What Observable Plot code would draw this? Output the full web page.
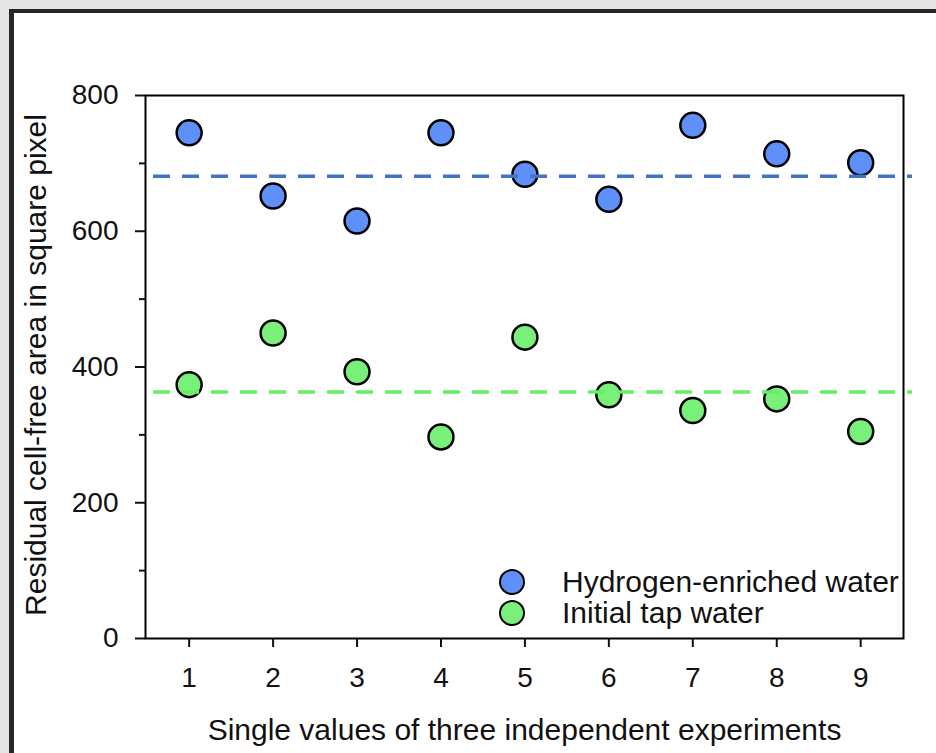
<!DOCTYPE html>
<html>
<head>
<meta charset="utf-8">
<script src="https://cdn.jsdelivr.net/npm/d3@7"></script>
<script src="https://cdn.jsdelivr.net/npm/@observablehq/plot@0.6"></script>
<style>
  html, body { margin: 0; padding: 0; background: #e5e5e5; }
  body { width: 936px; height: 753px; position: relative; overflow: hidden; font-family: "Liberation Sans", Arial, sans-serif; }
  #frame { position: absolute; left: 9px; top: 9px; width: 940px; height: 740px; background: #fff;
           border-left: 5px solid #262626; border-top: 4px solid #262626; border-bottom: 2px solid #8a8a8a; }
  #chart { position: absolute; left: 0; top: 0; }
  #legend { position: absolute; left: 499px; top: 566px; font-size: 30px; color: #111; }
  .row { display: flex; align-items: center; height: 31px; }
  .sw { width: 22px; height: 22px; border: 2.5px solid #000; border-radius: 50%; margin-right: 37px; }
</style>
</head>
<body>
<div id="frame"></div>
<div id="chart"></div>
<div id="legend"></div>
<script>
const experiments = [1, 2, 3, 4, 5, 6, 7, 8, 9];
const hydrogenValues = [745, 652, 615, 745, 684, 647, 756, 714, 701];
const tapValues = [374, 450, 393, 297, 444, 359, 336, 353, 305];
const hydrogenMean = 681;
const tapMean = 363;
const seriesNames = ["Hydrogen-enriched water", "Initial tap water"];
const seriesFill = ["#5f8ff8", "#79f07a"];
const meanStroke = ["#4472c4", "#66ee66"];
const yMajorTicks = [0, 200, 400, 600, 800];
const yMinorTicks = [100, 300, 500, 700];
const xLabel = "Single values of three independent experiments";
const yLabel = "Residual cell-free area in square pixel";

const rows = [
  ...experiments.map((e, i) => ({x: e, y: hydrogenValues[i], s: seriesNames[0]})),
  ...experiments.map((e, i) => ({x: e, y: tapValues[i], s: seriesNames[1]}))
];

const chart = Plot.plot({
  width: 936,
  height: 753,
  marginLeft: 145,
  marginRight: 33,
  marginTop: 95,
  marginBottom: 115,
  style: {background: "transparent", fontFamily: "'Liberation Sans', Arial, sans-serif", fontSize: "28px", color: "#111"},
  x: {domain: [0.48, 9.51]},
  y: {domain: [0, 800]},
  color: {domain: seriesNames, range: seriesFill},
  marks: [
    Plot.axisY({ticks: yMinorTicks, tickSize: 6, text: null, strokeWidth: 2, label: null}),
    Plot.axisY({ticks: yMajorTicks, tickSize: 10, tickPadding: 17, strokeWidth: 2, label: null, fontSize: 28}),
    Plot.axisX({ticks: experiments, tickSize: 9, tickPadding: 20, strokeWidth: 2, label: null, fontSize: 28, tickFormat: d => String(d)}),
    Plot.dot(rows, {x: "x", y: "y", fill: "s", r: 12.5, stroke: "#000", strokeWidth: 2.5}),
    Plot.ruleY([hydrogenMean], {stroke: meanStroke[0], strokeWidth: 3.5, strokeDasharray: "17 12", insetLeft: 8, insetRight: -9}),
    Plot.ruleY([tapMean], {stroke: meanStroke[1], strokeWidth: 3.5, strokeDasharray: "17 12", insetLeft: 8, insetRight: -9}),
    Plot.frame({stroke: "#000", strokeWidth: 2}),
    Plot.text([xLabel], {frameAnchor: "bottom", dy: 92, lineAnchor: "middle", textAnchor: "middle", fontSize: 30, fill: "#111"}),
    Plot.text([yLabel], {frameAnchor: "left", dx: -109, dy: -2, rotate: -90, lineAnchor: "middle", textAnchor: "middle", fontSize: 30, fill: "#111"})
  ]
});
document.getElementById("chart").appendChild(chart);

const legend = document.getElementById("legend");
seriesNames.forEach((name, i) => {
  const row = document.createElement("div");
  row.className = "row";
  const sw = document.createElement("div");
  sw.className = "sw";
  sw.style.background = seriesFill[i];
  const label = document.createElement("span");
  label.textContent = name;
  row.appendChild(sw);
  row.appendChild(label);
  legend.appendChild(row);
});
</script>
</body>
</html>
